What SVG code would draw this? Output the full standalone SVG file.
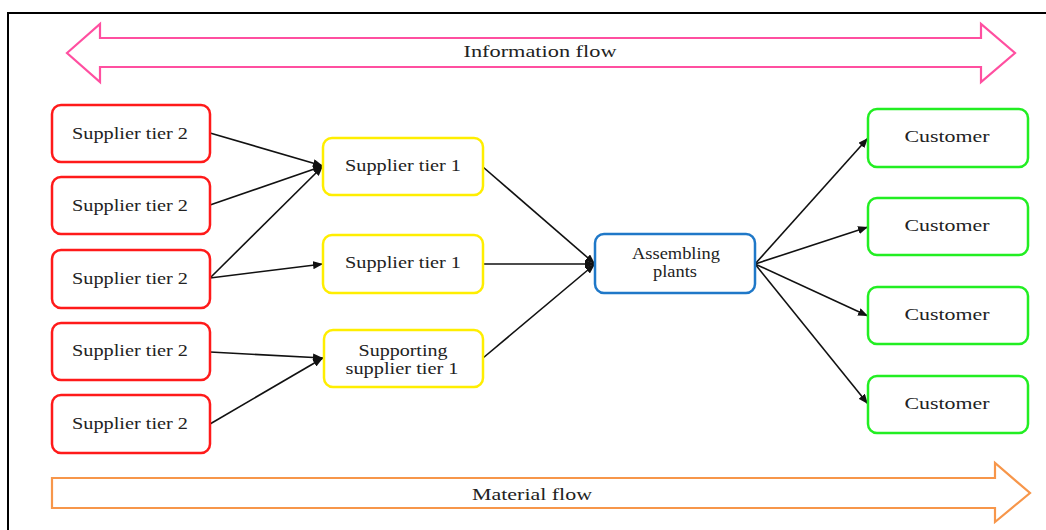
<svg xmlns="http://www.w3.org/2000/svg" width="1046" height="530" viewBox="0 0 1046 530">
<style>
text{font-family:"Liberation Serif","Times New Roman",serif;font-size:17px;fill:#222;text-anchor:middle}
.box{fill:#fff;stroke-width:2.5}
.t2{stroke:#ff1a1a}
.t1{stroke:#ffee00}
.asm{stroke:#1f78c8}
.cus{stroke:#22ee22}
.con line{stroke:#111;stroke-width:1.6;marker-end:url(#ah)}
</style>
<defs>
<marker id="ah" viewBox="0 0 10 8" refX="10" refY="4" markerWidth="10" markerHeight="8" markerUnits="userSpaceOnUse" orient="auto">
<path d="M0,0 L10,4 L0,8 Z" fill="#111"/>
</marker>
</defs>
<rect width="1046" height="530" fill="#fff"/>
<path d="M8,530 V13 H1046" fill="none" stroke="#000" stroke-width="2"/>
<g id="info-flow">
<path d="M67,53 L100,24 L100,38 L981,38 L981,24 L1015,53 L981,82 L981,67 L100,67 L100,82 Z" fill="#fff" stroke="#ff4fa0" stroke-width="2.2" stroke-linejoin="miter"/>
<text x="540" y="57" textLength="153" lengthAdjust="spacingAndGlyphs">Information flow</text>
</g>
<g id="material-flow">
<path d="M52,478 L995,478 L995,463 L1030,493 L995,522 L995,508 L52,508 Z" fill="#fff" stroke="#f7964a" stroke-width="2.2"/>
<text x="532" y="500" textLength="120" lengthAdjust="spacingAndGlyphs">Material flow</text>
</g>
<g class="con">
<line x1="210" y1="133" x2="323" y2="166"/>
<line x1="210" y1="205" x2="323" y2="166"/>
<line x1="210" y1="278" x2="323" y2="166"/>
<line x1="210" y1="278" x2="323" y2="264"/>
<line x1="210" y1="352" x2="323" y2="358"/>
<line x1="210" y1="424" x2="323" y2="358"/>
<line x1="483" y1="167" x2="595" y2="264"/>
<line x1="483" y1="264" x2="595" y2="264"/>
<line x1="483" y1="358" x2="595" y2="264"/>
<line x1="755" y1="264" x2="868" y2="138"/>
<line x1="755" y1="264" x2="868" y2="227"/>
<line x1="755" y1="264" x2="868" y2="316"/>
<line x1="755" y1="264" x2="868" y2="404"/>
</g>
<g id="st2-1"><rect class="box t2" x="52" y="105" width="158" height="57" rx="9"/><text x="130" y="139" textLength="116" lengthAdjust="spacingAndGlyphs">Supplier tier 2</text></g>
<g id="st2-2"><rect class="box t2" x="52" y="177" width="158" height="57" rx="9"/><text x="130" y="211" textLength="116" lengthAdjust="spacingAndGlyphs">Supplier tier 2</text></g>
<g id="st2-3"><rect class="box t2" x="52" y="250" width="158" height="58" rx="9"/><text x="130" y="284" textLength="116" lengthAdjust="spacingAndGlyphs">Supplier tier 2</text></g>
<g id="st2-4"><rect class="box t2" x="52" y="323" width="158" height="57" rx="9"/><text x="130" y="356" textLength="116" lengthAdjust="spacingAndGlyphs">Supplier tier 2</text></g>
<g id="st2-5"><rect class="box t2" x="52" y="395" width="158" height="58" rx="9"/><text x="130" y="429" textLength="116" lengthAdjust="spacingAndGlyphs">Supplier tier 2</text></g>
<g id="st1-1"><rect class="box t1" x="323" y="138" width="160" height="57" rx="9"/><text x="403" y="171" textLength="116" lengthAdjust="spacingAndGlyphs">Supplier tier 1</text></g>
<g id="st1-2"><rect class="box t1" x="323" y="235" width="160" height="58" rx="9"/><text x="403" y="268" textLength="116" lengthAdjust="spacingAndGlyphs">Supplier tier 1</text></g>
<g id="sst1"><rect class="box t1" x="324" y="330" width="159" height="57" rx="9"/><text x="403" y="356" textLength="89" lengthAdjust="spacingAndGlyphs">Supporting</text><text x="402" y="374" textLength="113" lengthAdjust="spacingAndGlyphs">supplier tier 1</text></g>
<g id="assembling"><rect class="box asm" x="595" y="234" width="160" height="59" rx="9"/><text x="676" y="259" font-size="16" textLength="88" lengthAdjust="spacingAndGlyphs">Assembling</text><text x="675" y="277" font-size="16" textLength="44" lengthAdjust="spacingAndGlyphs">plants</text></g>
<g id="cust-1"><rect class="box cus" x="868" y="109" width="160" height="58" rx="9"/><text x="947" y="142" textLength="85" lengthAdjust="spacingAndGlyphs">Customer</text></g>
<g id="cust-2"><rect class="box cus" x="868" y="198" width="160" height="57" rx="9"/><text x="947" y="231" textLength="85" lengthAdjust="spacingAndGlyphs">Customer</text></g>
<g id="cust-3"><rect class="box cus" x="868" y="287" width="160" height="57" rx="9"/><text x="947" y="320" textLength="85" lengthAdjust="spacingAndGlyphs">Customer</text></g>
<g id="cust-4"><rect class="box cus" x="868" y="376" width="160" height="57" rx="9"/><text x="947" y="409" textLength="85" lengthAdjust="spacingAndGlyphs">Customer</text></g>
</svg>
